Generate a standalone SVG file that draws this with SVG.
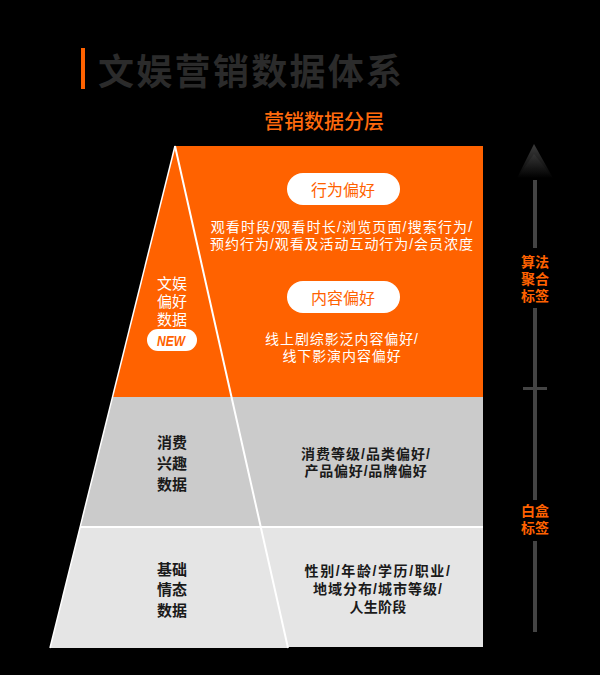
<svg xmlns="http://www.w3.org/2000/svg" width="600" height="675" viewBox="0 0 600 675">
  <defs>
    <style>
      text { font-family: "Liberation Sans", "Noto Sans CJK SC", sans-serif; text-anchor: middle; dominant-baseline: central; }
      .title { font-family: "Noto Sans CJK SC", sans-serif; font-size: 36px; font-weight: 700; fill: #2b2b2b; letter-spacing: 2.3px; text-anchor: start; }
      .sub { font-family: "Noto Sans CJK SC", sans-serif; font-size: 20px; font-weight: 500; fill: #ff6a0d; }
      .w { font-size: 14px; fill: #ffffff; }
      .wl { font-size: 15px; fill: #ffffff; }
      .pilltxt { font-family: "Noto Sans CJK SC", sans-serif; font-size: 16px; fill: #ff6200; }
      .k { font-size: 14px; font-weight: 700; fill: #1a1a1a; }
      .kl { font-size: 15px; font-weight: 700; fill: #1a1a1a; }
      .lab { font-size: 14px; font-weight: 700; fill: #ff6200; }
      .pill { fill: #ffffff; }
      .edge { stroke: #ffffff; fill: none; }
      .scale { fill: #444444; }
    </style>
    <linearGradient id="arrowGrad" x1="0" y1="0" x2="0" y2="1">
      <stop offset="0" stop-color="#3c3c3c"/>
      <stop offset="1" stop-color="#000000"/>
    </linearGradient>
  </defs>
  <rect width="600" height="675" fill="#000000"/>

  <g id="title">
    <rect x="81" y="48" width="4" height="41" fill="#ff6200"/>
    <text class="title" x="98" y="69">文娱营销数据体系</text>
  </g>
  <g id="subtitle">
    <text class="sub" x="324" y="120">营销数据分层</text>
  </g>

  <g id="layers">
    <polygon points="175,146 483,146 483,397 112.5,397" fill="#ff6200"/>
    <polygon points="112.5,397 483,397 483,527 80,527" fill="#cbcbcb"/>
    <polygon points="80,527 483,527 483,647 288,647 288,648 50,648" fill="#e5e5e5"/>
    <line class="edge" x1="175" y1="146" x2="50" y2="648" stroke-width="1.5"/>
    <line class="edge" x1="175" y1="146" x2="288" y2="648" stroke-width="2"/>
    <line class="edge" x1="80" y1="527" x2="483" y2="527" stroke-width="2"/>
  </g>

  <g id="node-entertainment">
    <text class="wl"><tspan x="172" y="283">文娱</tspan><tspan x="172" y="301">偏好</tspan><tspan x="172" y="319">数据</tspan></text>
    <rect class="pill" x="147" y="329" width="50" height="22" rx="11"/>
    <text x="171" y="340.5" font-family="Liberation Sans, sans-serif" font-size="15" font-weight="700" font-style="italic" fill="#ff6200" textLength="28" lengthAdjust="spacingAndGlyphs">NEW</text>
  </g>

  <g id="node-behavior">
    <rect class="pill" x="287" y="173" width="113" height="32" rx="16"/>
    <text class="pilltxt" x="343" y="189">行为偏好</text>
    <text class="w"><tspan x="342" y="227" style="letter-spacing:1.15px">观看时段/观看时长/浏览页面/搜索行为/</tspan><tspan x="342" y="244" style="letter-spacing:0.95px">预约行为/观看及活动互动行为/会员浓度</tspan></text>
  </g>

  <g id="node-content">
    <rect class="pill" x="287" y="281" width="113" height="32" rx="16"/>
    <text class="pilltxt" x="343" y="297">内容偏好</text>
    <text class="w" style="letter-spacing:0.9px"><tspan x="342" y="339">线上剧综影泛内容偏好/</tspan><tspan x="342" y="356">线下影演内容偏好</tspan></text>
  </g>

  <g id="node-consumption">
    <text class="kl"><tspan x="172" y="442">消费</tspan><tspan x="172" y="463">兴趣</tspan><tspan x="172" y="484">数据</tspan></text>
    <text class="k"><tspan x="366" y="454" style="letter-spacing:1px">消费等级/品类偏好/</tspan><tspan x="366" y="471" style="letter-spacing:0.8px">产品偏好/品牌偏好</tspan></text>
  </g>

  <g id="node-basic">
    <text class="kl"><tspan x="172" y="569">基础</tspan><tspan x="172" y="589">情态</tspan><tspan x="172" y="610">数据</tspan></text>
    <text class="k"><tspan x="378" y="571" style="letter-spacing:1.6px">性别/年龄/学历/职业/</tspan><tspan x="378" y="589" style="letter-spacing:1px">地域分布/城市等级/</tspan><tspan x="378" y="607" style="letter-spacing:0.3px">人生阶段</tspan></text>
  </g>

  <g id="connectors">
    <polygon points="534,144 553,178 517,178" fill="url(#arrowGrad)"/>
    <polygon points="534,154 553,178 517,178" fill="url(#arrowGrad)" opacity="0.6"/>
    <rect class="scale" x="533" y="180" width="4" height="68"/>
    <rect class="scale" x="533" y="308" width="4" height="192"/>
    <rect class="scale" x="523" y="387" width="24" height="3"/>
    <rect class="scale" x="533" y="541" width="4" height="91"/>
  </g>

  <g id="label-algo">
    <text class="lab"><tspan x="535" y="262">算法</tspan><tspan x="535" y="279">聚合</tspan><tspan x="535" y="296">标签</tspan></text>
  </g>
  <g id="label-whitebox">
    <text class="lab"><tspan x="535" y="511">白盒</tspan><tspan x="535" y="528">标签</tspan></text>
  </g>
</svg>
